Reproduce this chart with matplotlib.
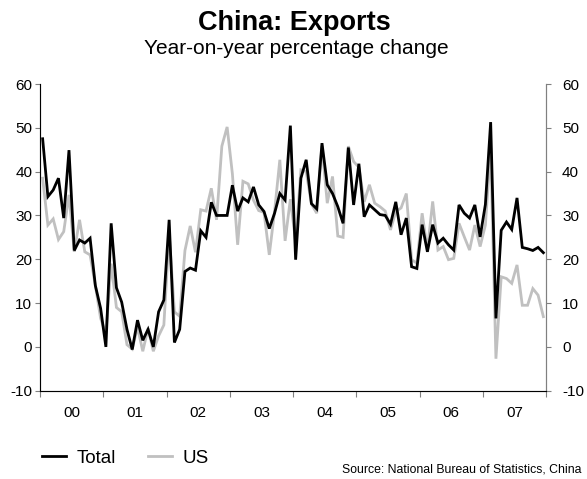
import numpy as np
import matplotlib.pyplot as plt
from matplotlib.lines import Line2D

plt.rcParams['font.family'] = ['Liberation Sans', 'DejaVu Sans']
plt.rcParams['axes.unicode_minus'] = False

# monthly yoy % change, Jan 2000 - Dec 2007
total = [
    47.5, 34.3, 35.8, 38.5, 29.4, 44.9, 22.0, 24.4, 23.7, 24.8, 14.0, 8.8,   # 2000
    0.0, 28.2, 13.5, 10.2, 4.0, -0.6, 6.1, 1.5, 4.0, 0.0, 8.0, 10.7,         # 2001
    29.0, 1.0, 4.0, 17.2, 18.0, 17.5, 26.5, 25.0, 33.0, 30.0, 30.0, 30.0,    # 2002
    36.9, 31.0, 34.0, 33.1, 36.5, 32.4, 30.9, 27.0, 30.5, 35.0, 33.5, 50.5,  # 2003
    19.9, 38.5, 42.7, 32.7, 31.5, 46.5, 37.0, 35.0, 32.0, 28.2, 45.5, 32.4,  # 2004
    41.8, 29.7, 32.4, 31.3, 30.2, 30.0, 28.0, 33.1, 25.6, 29.4, 18.3, 17.9,  # 2005
    27.9, 21.7, 27.9, 23.7, 24.8, 23.3, 22.1, 32.4, 30.5, 29.4, 32.4, 25.1,  # 2006
    32.5, 51.3, 6.5, 26.6, 28.5, 26.8, 34.0, 22.7, 22.4, 22.0, 22.7, 21.5,   # 2007
]
us = [
    38.5, 27.8, 29.2, 24.5, 26.3, 34.7, 21.7, 29.0, 21.7, 21.0, 14.0, 6.5,
    3.0, 19.0, 9.0, 8.0, 0.5, -0.5, 4.5, -1.0, 4.2, -1.0, 2.5, 5.0,
    26.0, 8.0, 7.0, 22.0, 27.6, 21.6, 31.3, 31.0, 36.2, 29.0, 45.8, 50.2,
    39.5, 23.3, 37.8, 37.2, 33.5, 31.1, 30.7, 21.0, 30.9, 42.7, 24.2, 33.7,
    24.0, 40.4, 40.0, 32.6, 30.5, 45.9, 32.8, 38.9, 25.3, 25.0, 45.8, 42.3,
    41.0, 33.1, 37.0, 32.8, 32.0, 31.0, 26.7, 30.9, 31.7, 35.0, 19.9, 19.1,
    30.5, 22.1, 33.2, 22.1, 22.9, 19.9, 20.2, 28.2, 25.1, 22.1, 27.8, 22.9,
    27.8, 45.4, -2.7, 16.0, 15.6, 14.5, 18.7, 9.5, 9.5, 13.3, 11.8, 6.9,
]
years = list(range(2000, 2008))
year_labels = ['00', '01', '02', '03', '04', '05', '06', '07']

# month positions (mid-month)
x = np.array([2000 + (i + 0.5) / 12 for i in range(len(total))])

fig = plt.figure(figsize=(5.87, 4.79), dpi=100)
ax = fig.add_axes([40 / 587, 1 - 390.7 / 479, 506 / 587, 306.7 / 479])

ax.plot(x, us, color='#c0c0c0', lw=2.0, solid_joinstyle='miter')
ax.plot(x, total, color='black', lw=2.0, solid_joinstyle='miter')

ax.set_xlim(2000, 2008)
ax.set_ylim(-10, 60)
ax.set_yticks(range(-10, 61, 10))
ax.set_xticks(range(2000, 2009))
ax.set_xticklabels([])
ax.set_xticks([y + 0.5 for y in years], minor=True)
ax.set_xticklabels(year_labels, minor=True)

axis_col = '#808080'
for s in ['left', 'right', 'bottom']:
    ax.spines[s].set_color(axis_col)
ax.spines['top'].set_visible(False)
ax.tick_params(axis='x', which='major', direction='out', length=4, color=axis_col)
ax.tick_params(axis='x', which='minor', length=0, pad=11, labelsize=11)
ax.tick_params(axis='y', direction='out', length=3.5, pad=2, color=axis_col, labelsize=11)

ax2 = ax.twinx()
ax2.set_ylim(-10, 60)
ax2.set_yticks(range(-10, 61, 10))
ax2.spines['top'].set_visible(False)
ax2.spines['right'].set_color(axis_col)
ax2.tick_params(axis='y', direction='out', length=3.5, pad=8, color=axis_col, labelsize=11)

fig.text(0.502, 1 - 30 / 479, 'China: Exports', ha='center', va='baseline',
         fontsize=19.5, fontweight='bold')
fig.text(0.504, 1 - 54 / 479, 'Year-on-year percentage change', ha='center',
         va='baseline', fontsize=15)

handles = [Line2D([], [], color='black', lw=2.0), Line2D([], [], color='#c0c0c0', lw=2.0)]
fig.legend(handles, ['Total', 'US'], loc='center left', bbox_to_anchor=(42 / 587, 1 - 458 / 479),
           ncol=2, frameon=False, fontsize=13.5, handlelength=1.3, handletextpad=0.55,
           columnspacing=1.7, borderpad=0, borderaxespad=0)

fig.text(582 / 587, 1 - 469 / 479, 'Source: National Bureau of Statistics, China',
         ha='right', va='center', fontsize=8.8)

fig.savefig('out.png', dpi=100)
